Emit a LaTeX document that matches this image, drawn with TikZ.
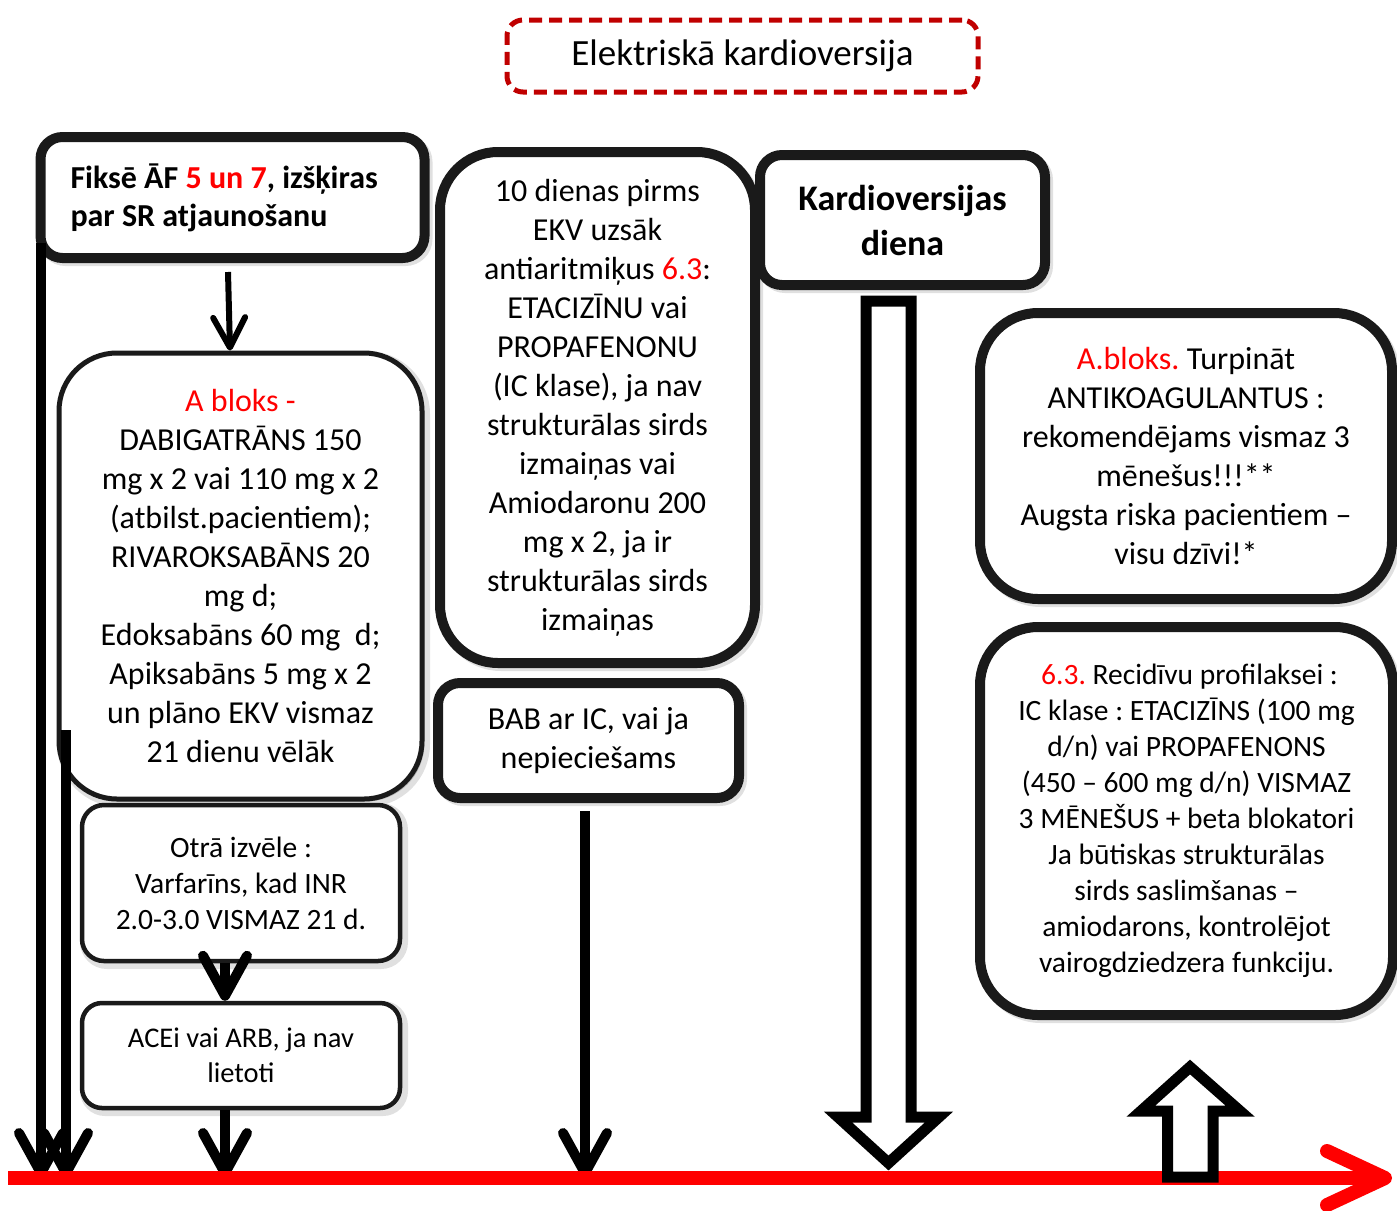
\documentclass[tikz,border=0pt]{standalone}
\usepackage{fontspec}
\setmainfont{Carlito}
\usetikzlibrary{arrows.meta,shadows}
\definecolor{boxline}{HTML}{1A1A1A}
\definecolor{titlered}{HTML}{C00000}
\newcommand{\rd}[1]{\textcolor{red}{#1}}
\newcommand{\fs}[2]{\fontsize{#1}{#2}\selectfont}
\frenchspacing

\begin{document}
\begin{tikzpicture}[x=1pt,y=-1pt,
    box/.style={draw=boxline, fill=white, line width=10pt, rounded corners=22pt,
      align=center, inner sep=0pt,
      drop shadow={shadow xshift=3pt, shadow yshift=-3pt, fill=black!12, draw=black!12,
        line width=10pt, opacity=1}},
    bigbox/.style={box, rounded corners=58pt},
    thinbox/.style={box, line width=4.5pt},
    arr/.style={line width=10pt, -{Straight Barb[length=40pt,width=44pt,round]}},
    smallarr/.style={line width=6pt, -{Straight Barb[length=30pt,width=32pt,round]}},
    axis/.style={red, line width=14pt, -{Straight Barb[length=58pt,width=54pt,round]}},
    hollow/.style={draw=black, fill=white, line width=11pt, line join=miter}]
    \useasboundingbox (0,0) rectangle (1397,1210);

    % title on top, dashed dark red frame
    \node[draw=titlered, line width=5pt, rounded corners=16pt, dash pattern=on 13pt off 7pt,
      minimum width=471pt, minimum height=72pt, inner sep=0pt, font=\fs{37}{44}]
      (title) at (742.5,56) {\raisebox{-3pt}{Elektriskā kardioversija}};

    % left column
    \node[box, minimum width=384pt, minimum height=121pt, text width=324pt, align=flush left,
      font=\bfseries\fs{32}{38}] (fix) at (232.5,197.5)
      {Fiksē ĀF \rd{5 un 7}, izšķiras\\par SR atjaunošanu};
    \node[bigbox, line width=5pt, drop shadow={line width=5pt}, minimum width=363pt,
      minimum height=446pt, font=\fs{32}{39}] (abloks) at (240.5,576)
      {\rd{A bloks -}\\DABIGATRĀNS 150\\mg x 2 vai 110 mg x 2\\(atbilst.pacientiem);\\
       RIVAROKSABĀNS 20\\mg d;\\Edoksabāns 60 mg\ \ d;\\Apiksabāns 5 mg x 2\\
       un plāno EKV vismaz\\21 dienu vēlāk};
    \node[thinbox, minimum width=318pt, minimum height=156pt, font=\fs{29.5}{36}]
      (otra) at (241,883) {Otrā izvēle :\\Varfarīns, kad INR\\2.0-3.0 VISMAZ 21 d.};
    \node[thinbox, rounded corners=20pt, minimum width=318pt, minimum height=105pt,
      font=\fs{28.5}{35}] (acei) at (241,1055.5) {ACEi vai ARB, ja nav\\lietoti};

    % middle column
    \node[bigbox, minimum width=315pt, minimum height=511pt, font=\fs{32}{39}]
      (antiar) at (597.5,407.5)
      {10 dienas pirms\\EKV uzsāk\\antiaritmiķus \rd{6.3}:\\ETACIZĪNU vai\\PROPAFENONU\\
       (IC klase), ja nav\\strukturālas sirds\\izmaiņas vai\\Amiodaronu 200\\mg x 2, ja ir\\
       strukturālas sirds\\izmaiņas};
    \node[box, minimum width=301pt, minimum height=115pt, font=\fs{32}{39}]
      (bab) at (588.5,740.5) {BAB ar IC, vai ja\\nepieciešams};

    % day of cardioversion
    \node[box, minimum width=285pt, minimum height=130pt, font=\bfseries\fs{36}{45}]
      (kdiena) at (902.5,220) {Kardioversijas\\diena};

    % right column
    \node[bigbox, minimum width=412pt, minimum height=286pt, font=\fs{32}{39}]
      (turpinat) at (1186,456)
      {\rd{A.bloks.} Turpināt\\ANTIKOAGULANTUS :\\rekomendējams vismaz 3\\mēnešus!!!**\\
       Augsta riska pacientiem –\\visu dzīvi!*};
    \node[bigbox, minimum width=413pt, minimum height=388pt, font=\fs{29.5}{36}]
      (recid) at (1186.5,821)
      {\hspace*{6pt}\rd{6.3.} Recidīvu profilaksei :\\IC klase : ETACIZĪNS (100 mg\\d/n) vai PROPAFENONS\\
       (450 – 600 mg d/n) VISMAZ\\3 MĒNEŠUS + beta blokatori\\Ja būtiskas strukturālas\\
       sirds saslimšanas –\\amiodarons, kontrolējot\\vairogdziedzera funkciju.};

    % time axis
    \coordinate (axL) at (8,1178);
    \coordinate (axR) at (1392,1178);
    \coordinate (s2) at (66,730);
    \coordinate (f1) at (228,272);

    % arrows down to the axis
    \draw[arr] (41,243) -- (41,1178);
    \draw[arr] (s2) -- (s2 |- axL);
    \draw[smallarr] (f1) -- (abloks.north -| 230,0);
    \draw[arr] (otra.south -| 225,0) -- (acei.north -| 225,0);
    \draw[arr] (acei.south -| 225,0) -- (225,1178);
    \draw[arr] ([yshift=-8pt]bab.south -| 585,0) -- (585,1178);
    \draw[axis] (axL) -- (axR);

    % hollow arrows
    \draw[hollow] (866,301) -- (911,301) -- (911,1117) -- (939,1117) -- (888.5,1163)
      -- (838,1117) -- (866,1117) -- cycle;
    \draw[hollow] (1167.5,1177) -- (1167.5,1111) -- (1141,1111) -- (1190,1067)
      -- (1240,1111) -- (1213,1111) -- (1213,1177) -- cycle;
\end{tikzpicture}
\end{document}
